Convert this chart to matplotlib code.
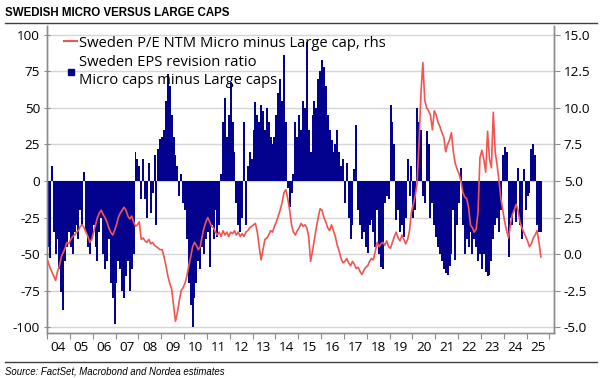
import matplotlib
matplotlib.use('Agg')
import matplotlib.pyplot as plt
import numpy as np
from matplotlib.lines import Line2D

start_year = 2004

# Sweden EPS revision ratio, Micro caps minus Large caps (lhs), monthly Jan-2004 .. Aug-2025
eps_ratio = [
    -45, -53, 10, -35, -50, -40, -60, -76, -88, -55, -45, -35,      # 2004
    -45, -50, -35, -30, -40, -20, -30, 6, -35, -45, -50, -40,       # 2005
    -30, -45, -55, -35, -25, -50, -60, -55, -40, -70, -80, -98,     # 2006
    -70, -55, -60, -75, -80, -65, -55, -75, -60, -50, 20, 15,       # 2007
    10, -12, 15, -12, -25, 12, -22, -8, 18, -30, 22, 29,            # 2008
    30, 35, 55, 73, 65, 45, 30, 18, 10, -10, 5, -15,                # 2009
    -20, -40, -70, -85, -100, -80, -70, -55, -60, -45, -50, -40,    # 2010
    -35, -59, -30, -40, -20, -38, -30, 5, 40, 57, 30, 45,           # 2011
    68, 40, 20, -15, -30, -35, -25, 40, -30, 10, 20, 15,            # 2012
    35, 54, 45, 40, 52, 48, 35, 50, 40, 30, 25, 30,                 # 2013
    45, 60, 70, 55, 86, 40, -5, -18, -8, 5, 40, 30,                 # 2014
    45, 35, 55, 50, 95, 35, 20, 45, 55, 50, 70, 75,                 # 2015
    83, 78, 65, 45, 35, 28, 20, 25, 35, 20, 10, 15,                 # 2016
    -15, 12, -25, -40, -30, 8, 38, -20, -30, -40, -35, -45,         # 2017
    -49, -30, -27, -35, -45, -20, -50, -59, -60, -15, -10, -12,     # 2018
    52, 40, 25, -27, -20, -35, -30, -38, -25, 15, -10, 10,          # 2019
    -25, -20, 50, 40, 35, -10, -15, 34, 25, -25, -15, -30,          # 2020
    -38, -45, -50, -55, -60, -63, -64, -58, -50, -20, -54, -30,     # 2021
    -15, 9, -30, -50, -40, -45, -35, -50, -40, -45, -55, -50,       # 2022
    -60, -50, -62, -65, -64, -55, -40, -30, -25, -35, -20, 18,      # 2023
    23, 20, -52, -25, -30, -20, -28, 9, -30, -40, 8, -20,           # 2024
    -10, -8, 22, 25, 18, -30, -35, -35,                             # 2025
]

# Sweden P/E NTM Micro minus Large cap (rhs), monthly Jan-2004 .. Aug-2025
pe_diff = [
    -0.5, -0.9, -1.2, -1.5, -1.8, -1.2, -0.8, -0.2, 0.1, 0.4, 0.8, 0.7,   # 2004
    1.0, 1.2, 1.3, 1.5, 1.6, 1.9, 2.0, 1.8, 1.5, 1.2, 0.8, 1.0,           # 2005
    1.5, 2.0, 2.5, 2.8, 3.0, 2.7, 2.5, 2.2, 1.8, 1.5, 1.3, 1.6,           # 2006
    2.0, 2.5, 2.8, 3.0, 3.2, 3.0, 2.6, 2.4, 2.6, 2.2, 1.9, 2.0,           # 2007
    2.2, 1.0, 1.1, 0.9, 0.8, 1.0, 0.7, 0.8, 0.6, 0.5, 0.4, 0.3,           # 2008
    0.3, -0.2, -0.8, -1.5, -2.0, -2.4, -3.5, -4.6, -4.0, -3.2, -2.5, -2.3, # 2009
    -2.0, -1.5, -0.8, -0.2, 0.5, 0.8, 0.6, 0.3, 0.5, 1.2, 1.8, 2.2,       # 2010
    2.5, 2.2, 1.9, 1.8, 1.5, 1.3, 1.5, 1.2, 1.6, 1.3, 1.5, 1.2,           # 2011
    1.5, 1.4, 1.6, 1.3, 1.5, 1.2, 1.4, 1.2, 1.5, 1.6, 1.8, 1.9,           # 2012
    2.0, 2.1, 1.5, 0.5, -0.4, 0.3, 1.0, 1.1, 1.3, 1.6, 1.5, 1.9,          # 2013
    2.2, 2.6, 3.0, 3.5, 4.2, 4.4, 3.8, 3.0, 2.0, 1.5, 1.3, 1.6,           # 2014
    1.8, 2.1, 1.9, 2.0, 1.8, 1.2, -0.5, 0.2, 1.0, 1.8, 2.5, 3.1,          # 2015
    3.0, 2.5, 2.2, 1.8, 1.6, 2.0, 1.6, 1.2, 0.6, 0.2, -0.3, -0.6,         # 2016
    -0.5, -0.3, -0.6, -0.8, -0.5, -0.7, -1.0, -0.9, -1.2, -1.4, -1.1, -0.9, # 2017
    -0.8, -0.5, -0.3, -0.4, 0.2, 0.8, 0.5, 0.7, 0.8, 0.6, 0.9, 0.5,       # 2018
    0.4, 0.8, 1.2, 1.5, 1.1, 0.9, 1.3, 1.0, 0.7, 1.0, 1.6, 2.9,           # 2019
    3.4, 4.0, 4.9, 7.7, 11.0, 13.1, 10.5, 10.0, 9.8, 9.5, 8.5, 9.8,       # 2020
    9.5, 9.0, 8.7, 8.3, 8.0, 7.0, 7.5, 7.8, 8.3, 7.0, 6.2, 5.8,           # 2021
    5.5, 5.0, 4.2, 3.9, 3.8, 3.2, 2.0, 1.8, 1.5, 1.7, 2.9, 6.6,           # 2022
    7.1, 6.5, 5.6, 8.4, 6.5, 5.9, 9.7, 7.0, 6.1, 5.0, 3.8, 3.0,           # 2023
    2.2, 1.6, 1.1, 2.0, 2.7, 3.0, 3.4, 3.0, 2.2, 1.8, 1.5, 1.2,           # 2024
    0.9, 0.5, 0.7, 1.1, 1.3, 1.6, 0.8, -0.2,                              # 2025
]

year_labels = ['04', '05', '06', '07', '08', '09', '10', '11', '12', '13', '14',
               '15', '16', '17', '18', '19', '20', '21', '22', '23', '24', '25']
left_ticks = [-100, -75, -50, -25, 0, 25, 50, 75, 100]
right_ticks = [-5.0, -2.5, 0.0, 2.5, 5.0, 7.5, 10.0, 12.5, 15.0]

title = 'SWEDISH MICRO VERSUS LARGE CAPS'
source = 'Source: FactSet, Macrobond and Nordea estimates'
label_pe = 'Sweden P/E NTM Micro minus Large cap, rhs'
label_eps = 'Sweden EPS revision ratio\nMicro caps minus Large caps'

navy = '#02028f'
red = '#f25450'
spine_col = '#8c8c8c'
font = 'Open Sans'

t = start_year + (np.arange(len(eps_ratio)) + 0.5) / 12.0
t_pe = start_year + (np.arange(len(pe_diff)) + 0.5) / 12.0

W, H = 602, 378
fig = plt.figure(figsize=(W / 100, H / 100), dpi=100)
ax = fig.add_axes([47 / W, 1 - 333 / H, (554 - 47) / W, (333 - 26) / H])

ax.bar(t, eps_ratio, width=1.04 / 12.0, color=navy, linewidth=0, zorder=2)
ax.set_xlim(2004, 2026.2)
ax.set_ylim(-104, 106)
ax.set_yticks(left_ticks)
ax.set_yticklabels([str(v) for v in left_ticks], fontfamily=font, fontsize=9.7)
ax.grid(axis='y', color='#d6d6d6', linewidth=1.0, zorder=0)
ax.set_axisbelow(True)

ax.set_xticks(np.arange(2004, 2027))
ax.set_xticklabels([])
ax.set_xticks(np.arange(2004, 2026) + 0.5, minor=True)
ax.set_xticklabels(year_labels, minor=True, fontfamily=font, fontsize=9.7)
ax.tick_params(axis='x', which='major', length=4, color=spine_col, direction='out')
ax.tick_params(axis='x', which='minor', length=0, pad=6)
ax.tick_params(axis='y', length=4, color=spine_col, direction='inout', pad=3)

ax2 = ax.twinx()
ax2.plot(t_pe, pe_diff, color=red, linewidth=1.2, zorder=3)
ax2.set_ylim(5 + (-104) / 10.0, 5 + 106 / 10.0)
ax2.set_yticks(right_ticks)
ax2.set_yticklabels([f'{v:.1f}' for v in right_ticks], fontfamily=font, fontsize=9.7)
ax2.tick_params(axis='y', length=4, color=spine_col, direction='out', pad=3)

for a in (ax, ax2):
    a.spines['top'].set_visible(False)
    for s in ('left', 'right', 'bottom'):
        a.spines[s].set_color(spine_col)
        a.spines[s].set_linewidth(1.0)

handles = [Line2D([0], [0], color=red, lw=1.5),
           Line2D([0], [0], color=navy, marker='s', markersize=5, linestyle='none')]
leg = ax2.legend(handles, [label_pe, label_eps], loc='upper left',
                 bbox_to_anchor=(0.022, 0.988), frameon=False,
                 prop={'family': font, 'size': 10.6}, handlelength=0.9,
                 handletextpad=0.12, labelspacing=0.3, borderaxespad=0.0)
for txt in leg.get_texts():
    txt.set_linespacing(1.25)

fig.text(5 / W, 1 - 13 / H, title, fontfamily='Liberation Sans', fontweight='bold',
         fontsize=8.3, va='center', ha='left')
fig.add_artist(Line2D([5 / W, 597 / W], [1 - 23 / H, 1 - 23 / H], color='#404040', lw=1.0))
fig.add_artist(Line2D([5 / W, 597 / W], [1 - 362 / H, 1 - 362 / H], color='#404040', lw=1.0))
fig.text(5 / W, 1 - 371 / H, source, fontfamily='Liberation Sans', style='italic',
         fontsize=6.9, va='center', ha='left')

fig.savefig('out.png', dpi=100)
